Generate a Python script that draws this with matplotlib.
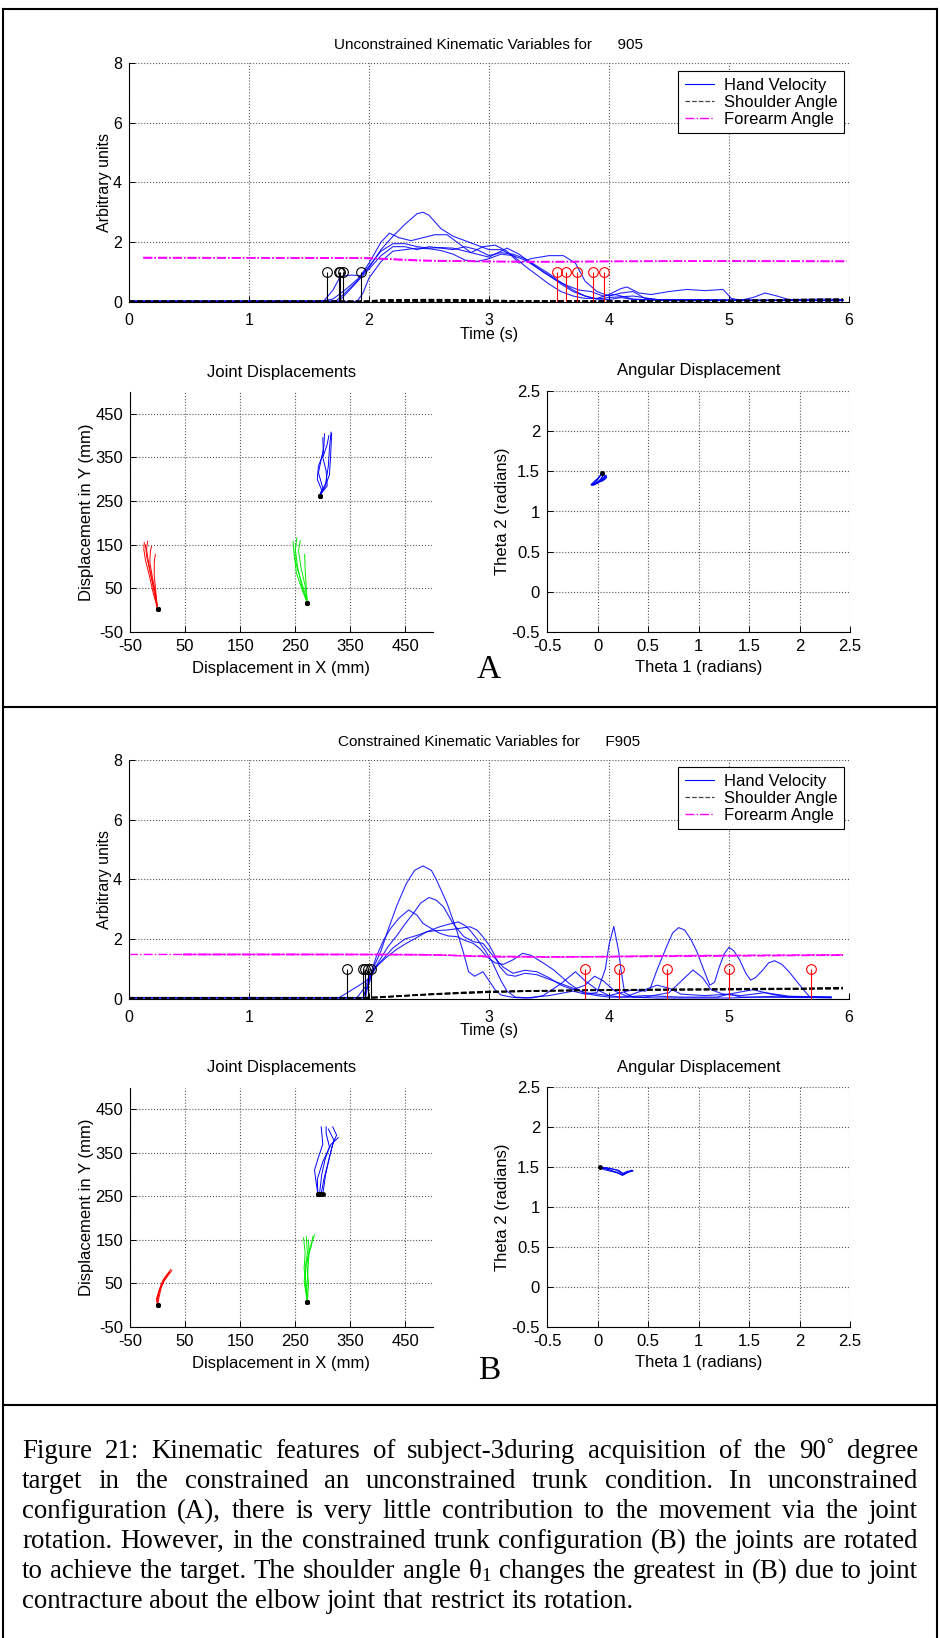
import matplotlib
matplotlib.use("Agg")
import matplotlib.pyplot as plt
from matplotlib.lines import Line2D
from matplotlib.ticker import FormatStrFormatter

plt.rcParams['font.family'] = ['Liberation Sans', 'DejaVu Sans']
plt.rcParams['axes.unicode_minus'] = False
plt.rcParams['mathtext.fontset'] = 'custom'
plt.rcParams['mathtext.rm'] = 'Liberation Serif'
plt.rcParams['mathtext.it'] = 'Liberation Serif:italic'

# ---------------- data ----------------
legend_labels = ['Hand Velocity', 'Shoulder Angle', 'Forearm Angle']
title_a = 'Unconstrained Kinematic Variables for      905'
title_b = 'Constrained Kinematic Variables for      F905'
stem_level = 1.0

# hand velocity, unconstrained trials (time s, arbitrary units)
hand_a = [
    [(0, 0.03), (1.6, 0.03), (1.7, 0.1), (1.8, 0.4), (1.9, 0.75), (2.0, 1.15), (2.1, 1.75), (2.2, 2.2),
     (2.3, 2.6), (2.4, 2.95), (2.45, 3.0), (2.5, 2.9), (2.6, 2.45), (2.7, 2.2), (2.8, 2.05), (2.9, 1.9),
     (3.0, 1.75), (3.1, 1.75), (3.2, 1.55), (3.3, 1.2), (3.4, 0.9), (3.5, 0.6), (3.6, 0.35), (3.7, 0.2),
     (3.8, 0.12), (3.9, 0.12), (4.0, 0.25), (4.1, 0.45), (4.15, 0.5), (4.25, 0.3), (4.35, 0.25), (4.5, 0.35),
     (4.65, 0.42), (4.8, 0.38), (4.95, 0.42), (5.02, 0.12), (5.1, 0.06), (5.2, 0.15), (5.3, 0.3),
     (5.4, 0.2), (5.5, 0.08), (5.6, 0.05), (5.95, 0.05)],
    [(0, 0.02), (1.62, 0.02), (1.7, 0.4), (1.76, 0.85), (1.85, 0.9), (1.93, 0.88), (2.0, 1.3), (2.1, 2.0),
     (2.17, 2.3), (2.25, 2.15), (2.35, 2.05), (2.45, 2.15), (2.55, 2.25), (2.65, 2.25), (2.75, 1.95),
     (2.85, 1.65), (2.95, 1.85), (3.05, 1.9), (3.15, 1.7), (3.25, 1.3), (3.35, 1.45), (3.5, 1.55),
     (3.62, 1.55), (3.72, 1.3), (3.8, 0.7), (3.9, 0.35), (4.0, 0.2), (4.1, 0.3), (4.2, 0.35), (4.3, 0.12),
     (4.5, 0.05), (5.95, 0.05)],
    [(0, 0.02), (1.72, 0.02), (1.8, 0.3), (1.9, 0.7), (2.0, 1.2), (2.1, 1.7), (2.2, 1.95), (2.3, 1.95),
     (2.4, 1.85), (2.5, 1.8), (2.6, 1.82), (2.7, 1.8), (2.8, 1.7), (2.9, 1.6), (3.0, 1.5), (3.1, 1.7),
     (3.15, 1.8), (3.25, 1.6), (3.35, 1.3), (3.45, 1.0), (3.55, 0.75), (3.65, 0.55), (3.75, 0.4),
     (3.85, 0.35), (3.95, 0.2), (4.05, 0.25), (4.2, 0.1), (4.4, 0.05), (5.95, 0.05)],
    [(0, 0.03), (1.75, 0.03), (1.85, 0.45), (1.93, 0.8), (2.0, 1.1), (2.1, 1.55), (2.2, 1.85), (2.3, 1.85),
     (2.4, 1.75), (2.5, 1.85), (2.6, 1.8), (2.7, 1.75), (2.8, 1.85), (2.9, 1.75), (3.0, 1.55), (3.1, 1.65),
     (3.2, 1.6), (3.3, 1.45), (3.4, 1.2), (3.5, 0.95), (3.6, 0.65), (3.7, 0.4), (3.8, 0.2), (3.9, 0.1),
     (4.0, 0.15), (4.2, 0.2), (4.4, 0.08), (4.8, 0.08), (5.3, 0.06), (5.8, 0.1), (5.95, 0.08)],
    [(0, 0.02), (1.9, 0.02), (1.95, 0.3), (2.0, 0.8), (2.1, 1.35), (2.2, 1.7), (2.3, 1.75), (2.4, 1.8),
     (2.5, 1.78), (2.6, 1.72), (2.7, 1.6), (2.8, 1.4), (2.9, 1.35), (3.0, 1.45), (3.1, 1.6), (3.2, 1.55),
     (3.3, 1.4), (3.4, 1.15), (3.5, 0.9), (3.6, 0.6), (3.7, 0.35), (3.8, 0.2), (3.9, 0.1), (4.0, 0.08),
     (4.1, 0.15), (4.2, 0.08), (5.95, 0.05)],
]
shoulder_a = [
    [(0, 0.03), (2.0, 0.03), (2.1, 0.07), (2.5, 0.08), (2.9, 0.07), (3.2, 0.04), (4.0, 0.03), (5.0, 0.05),
     (5.5, 0.08), (5.95, 0.1)],
    [(0, 0.02), (2.05, 0.02), (2.2, 0.05), (2.7, 0.06), (3.0, 0.03), (4.5, 0.03), (5.5, 0.06), (5.95, 0.08)],
    [(0, 0.01), (5.95, 0.03)],
]
forearm_a = [
    [(0.12, 1.48), (1.0, 1.48), (1.9, 1.47), (2.1, 1.45), (2.3, 1.40), (2.6, 1.37), (3.0, 1.35), (3.5, 1.35),
     (4.0, 1.36), (5.0, 1.36), (5.98, 1.35)],
    [(0.12, 1.47), (1.0, 1.47), (1.95, 1.46), (2.15, 1.43), (2.4, 1.38), (2.8, 1.36), (3.3, 1.34), (4.0, 1.35),
     (5.0, 1.37), (5.98, 1.36)],
    [(0.12, 1.49), (1.2, 1.48), (2.0, 1.47), (2.2, 1.44), (2.5, 1.39), (3.0, 1.36), (3.6, 1.35), (4.5, 1.37),
     (5.98, 1.37)],
]
onset_a = [1.648, 1.75, 1.76, 1.78, 1.93]
offset_a = [3.565, 3.638, 3.735, 3.869, 3.959]

# hand velocity, constrained trials
hand_b = [
    [(0, 0.03), (1.95, 0.03), (2.0, 0.6), (2.05, 1.15), (2.1, 1.6), (2.15, 2.2), (2.23, 3.1), (2.31, 3.85),
     (2.38, 4.3), (2.45, 4.45), (2.52, 4.3), (2.56, 4.0), (2.65, 3.2), (2.73, 2.3), (2.79, 1.5), (2.83, 0.9),
     (2.88, 0.75), (2.95, 0.9), (3.0, 0.6), (3.05, 0.3), (3.1, 0.12), (3.2, 0.04), (3.3, 0.02), (3.5, 0.1),
     (3.7, 0.25), (3.8, 0.15), (3.9, 0.2), (3.97, 1.0), (4.0, 1.8), (4.04, 2.42), (4.08, 1.6), (4.1, 0.96),
     (4.13, 0.2), (4.2, 0.05), (4.4, 0.02), (5.0, 0.02), (5.4, 0.08), (5.6, 0.05), (5.85, 0.03)],
    [(0, 0.03), (1.75, 0.03), (1.8, 0.15), (1.9, 0.4), (1.98, 0.6), (2.03, 0.9), (2.09, 1.3), (2.16, 1.75),
     (2.23, 2.1), (2.3, 2.5), (2.37, 2.86), (2.43, 3.2), (2.5, 3.39), (2.56, 3.3), (2.62, 3.08), (2.70, 2.52),
     (2.79, 2.08), (2.87, 1.91), (2.95, 1.85), (3.04, 1.4), (3.12, 1.05), (3.2, 0.85), (3.3, 0.95),
     (3.4, 0.9), (3.5, 0.7), (3.6, 0.45), (3.7, 0.3), (3.8, 0.45), (3.88, 0.75), (3.95, 0.6), (4.05, 0.25),
     (4.15, 0.08), (4.3, 0.3), (4.4, 0.45), (4.5, 0.35), (4.6, 0.15), (4.8, 0.1), (5.0, 0.15), (5.2, 0.3),
     (5.35, 0.15), (5.5, 0.05), (5.85, 0.05)],
    [(0, 0.03), (1.9, 0.03), (1.97, 0.4), (2.02, 0.9), (2.06, 1.4), (2.12, 1.95), (2.18, 2.35), (2.25, 2.7),
     (2.33, 2.97), (2.4, 2.8), (2.45, 2.52), (2.52, 2.35), (2.59, 2.19), (2.66, 2.1), (2.73, 2.08),
     (2.8, 1.95), (2.87, 1.85), (2.93, 1.65), (2.98, 1.41), (3.05, 1.2), (3.12, 1.15), (3.2, 1.3),
     (3.28, 1.52), (3.35, 1.45), (3.45, 1.2), (3.54, 0.96), (3.67, 0.5), (3.79, 0.18), (3.9, 0.1),
     (4.0, 0.05), (4.3, 0.05), (4.5, 0.2), (4.7, 0.96), (4.78, 0.7), (4.85, 0.3), (4.95, 0.15), (5.1, 0.1),
     (5.3, 0.2), (5.5, 0.08), (5.85, 0.05)],
    [(0, 0.03), (1.95, 0.03), (2.0, 0.5), (2.04, 0.96), (2.1, 1.25), (2.2, 1.7), (2.3, 2.0), (2.4, 2.12),
     (2.45, 2.19), (2.52, 2.3), (2.59, 2.41), (2.67, 2.5), (2.745, 2.57), (2.8, 2.45), (2.84, 2.3),
     (2.9, 2.0), (2.97, 1.6), (3.03, 1.2), (3.1, 0.6), (3.15, 0.25), (3.22, 0.05), (3.35, 0.02), (3.45, 0.1),
     (3.6, 0.5), (3.72, 0.9), (3.8, 0.6), (3.9, 0.3), (4.0, 0.1), (4.1, 0.05), (4.3, 0.1), (4.6, 0.05),
     (4.9, 0.05), (5.0, 0.15), (5.1, 0.05), (5.85, 0.03)],
    [(0, 0.03), (1.97, 0.03), (2.0, 0.6), (2.06, 1.07), (2.15, 1.4), (2.23, 1.65), (2.31, 1.85), (2.4, 2.05),
     (2.48, 2.24), (2.56, 2.28), (2.65, 2.3), (2.75, 2.35), (2.84, 2.41), (2.9, 2.3), (2.95, 2.07),
     (3.0, 1.8), (3.04, 1.51), (3.09, 1.07), (3.15, 0.8), (3.22, 0.75), (3.3, 0.85), (3.4, 0.8), (3.5, 0.65),
     (3.6, 0.5), (3.7, 0.35), (3.8, 0.2), (3.9, 0.15), (4.0, 0.1), (4.1, 0.2), (4.2, 0.3), (4.3, 0.25),
     (4.34, 0.3), (4.4, 0.96), (4.48, 1.74), (4.53, 2.2), (4.58, 2.38), (4.63, 2.3), (4.68, 2.0),
     (4.73, 1.6), (4.79, 0.96), (4.84, 0.45), (4.88, 0.55), (4.92, 1.07), (4.96, 1.5), (5.0, 1.72),
     (5.04, 1.6), (5.09, 1.29), (5.14, 0.85), (5.18, 0.62), (5.22, 0.7), (5.28, 0.95), (5.33, 1.2),
     (5.38, 1.27), (5.44, 1.15), (5.5, 0.9), (5.56, 0.6), (5.62, 0.3), (5.67, 0.07), (5.75, 0.05),
     (5.85, 0.05)],
]
shoulder_b = [
    [(0, 0.03), (1.95, 0.03), (2.2, 0.08), (2.5, 0.15), (2.8, 0.21), (3.0, 0.24), (3.5, 0.27), (4.0, 0.29),
     (5.0, 0.31), (5.5, 0.32), (5.95, 0.37)],
    [(0, 0.02), (2.0, 0.02), (2.3, 0.09), (2.6, 0.16), (3.0, 0.22), (3.6, 0.27), (4.2, 0.3), (5.0, 0.33),
     (5.95, 0.35)],
    [(0, 0.03), (2.05, 0.03), (2.4, 0.12), (2.9, 0.2), (3.3, 0.25), (4.0, 0.28), (5.0, 0.3), (5.95, 0.33)],
]
forearm_b = [
    [(0.0, 1.48), (1.0, 1.48), (2.0, 1.48), (2.5, 1.47), (2.8, 1.43), (3.0, 1.40), (3.5, 1.39), (4.0, 1.41),
     (4.5, 1.44), (5.0, 1.45), (5.95, 1.47)],
    [(0.45, 1.49), (1.5, 1.49), (2.4, 1.48), (2.7, 1.45), (3.0, 1.42), (3.6, 1.40), (4.2, 1.42), (5.0, 1.44),
     (5.95, 1.45)],
    [(0.45, 1.47), (2.2, 1.47), (2.6, 1.46), (3.0, 1.41), (4.0, 1.40), (5.0, 1.43), (5.95, 1.46)],
]
onset_b = [1.82, 1.95, 1.97, 1.99, 2.02]
offset_b = [3.8, 4.08, 4.48, 5.0, 5.68]

# joint paths in the plane (mm)
wrist_a = [
    [(0, 3), (-8, 40), (-15, 80), (-22, 115), (-25, 140), (-24, 155)],
    [(0, 3), (-6, 40), (-12, 80), (-17, 115), (-20, 140), (-18, 158)],
    [(0, 3), (-4, 40), (-10, 80), (-14, 110), (-13, 135), (-11, 146)],
    [(0, 3), (-3, 40), (-6, 80), (-6, 110), (-4, 128)],
    [(0, 3), (-5, 45), (-14, 90), (-20, 125), (-22, 150)],
]
elbow_a = [
    [(272, 16), (265, 50), (255, 90), (248, 125), (246, 158)],
    [(272, 16), (262, 55), (254, 100), (250, 140), (253, 166)],
    [(272, 16), (268, 55), (260, 100), (256, 135), (259, 160)],
    [(272, 16), (270, 50), (268, 90), (267, 128)],
    [(272, 16), (263, 45), (252, 85), (249, 120), (251, 150)],
]
hand_path_a = [
    [(294, 262), (300, 280), (292, 315), (297, 345), (302, 375), (303, 404)],
    [(294, 262), (305, 290), (310, 330), (312, 370), (315, 408)],
    [(294, 262), (308, 285), (306, 320), (300, 350), (308, 380), (311, 400)],
    [(294, 262), (298, 275), (290, 300), (292, 330), (301, 360), (300, 395)],
    [(294, 262), (303, 280), (312, 310), (314, 350), (316, 405)],
]
wrist_b = [
    [(0, 1), (-2, 15), (3, 35), (10, 58), (18, 72), (24, 82)],
    [(0, 1), (1, 18), (5, 38), (12, 56), (20, 70), (26, 80)],
    [(0, 1), (-1, 12), (2, 30), (8, 52), (15, 66), (22, 76)],
    [(0, 1), (3, 20), (7, 42), (14, 62), (21, 74)],
]
elbow_b = [
    [(272, 7), (268, 50), (269, 90), (272, 120), (270, 158)],
    [(272, 7), (270, 45), (266, 85), (268, 120), (265, 155)],
    [(272, 7), (274, 50), (271, 95), (276, 130), (285, 162)],
    [(272, 7), (266, 55), (270, 100), (279, 135), (282, 158)],
    [(272, 7), (271, 40), (273, 80), (275, 120), (274, 150)],
]
hand_path_b = [
    [(291, 256), (287, 290), (285, 311), (292, 340), (300, 370), (297, 410)],
    [(300, 256), (305, 300), (312, 340), (318, 370), (325, 391), (318, 410)],
    [(294, 256), (298, 300), (304, 335), (312, 364), (306, 395), (306, 410)],
    [(291, 256), (290, 290), (300, 330), (315, 370), (328, 385)],
    [(297, 256), (302, 290), (310, 330), (316, 360), (320, 380), (310, 405)],
]

# joint angles (rad): theta1, theta2
angles_a = [
    [(0.047, 1.479), (0.03, 1.45), (0.0, 1.40), (-0.04, 1.35), (-0.06, 1.325), (-0.03, 1.33), (0.01, 1.37),
     (0.05, 1.41), (0.08, 1.44), (0.07, 1.46)],
    [(0.047, 1.479), (0.06, 1.45), (0.04, 1.41), (0.0, 1.37), (-0.03, 1.34), (0.0, 1.35), (0.05, 1.39),
     (0.09, 1.42), (0.085, 1.45)],
    [(0.047, 1.479), (0.02, 1.43), (-0.01, 1.38), (-0.05, 1.33), (-0.02, 1.345), (0.03, 1.38), (0.07, 1.40),
     (0.09, 1.43)],
    [(0.047, 1.479), (0.05, 1.44), (0.03, 1.40), (0.02, 1.37), (0.05, 1.38), (0.08, 1.41), (0.06, 1.46)],
    [(0.047, 1.479), (0.035, 1.46), (0.01, 1.42), (-0.02, 1.39), (-0.065, 1.335), (-0.02, 1.35), (0.04, 1.39),
     (0.08, 1.43)],
]
angles_b = [
    [(0.028, 1.496), (0.08, 1.48), (0.15, 1.45), (0.22, 1.42), (0.25, 1.40), (0.29, 1.43), (0.34, 1.46)],
    [(0.028, 1.496), (0.10, 1.49), (0.17, 1.47), (0.23, 1.43), (0.26, 1.41), (0.31, 1.44), (0.33, 1.455)],
    [(0.028, 1.496), (0.06, 1.47), (0.12, 1.45), (0.19, 1.43), (0.24, 1.405), (0.28, 1.42), (0.35, 1.455),
     (0.32, 1.45)],
    [(0.028, 1.496), (0.09, 1.485), (0.16, 1.47), (0.21, 1.46), (0.25, 1.42), (0.30, 1.45)],
    [(0.028, 1.496), (0.07, 1.48), (0.14, 1.455), (0.20, 1.425), (0.245, 1.395), (0.27, 1.41), (0.31, 1.445),
     (0.35, 1.45)],
]

caption_lines = [
    "Figure 21: Kinematic features of subject-3during acquisition of the 90\u02da degree",
    "target in the constrained an unconstrained trunk condition. In unconstrained",
    "configuration (A), there is very little contribution to the movement via the joint",
    "rotation. However, in the constrained trunk configuration (B) the joints are rotated",
    "to achieve the target. The shoulder angle THETA1 changes the greatest in (B) due to joint",
    "contracture about the elbow joint that restrict its rotation.",
]

# ---------------- figure ----------------
W, H = 940, 1638
fig = plt.figure(figsize=(W / 100, H / 100), dpi=100)


def place(l, t, r, b):
    return fig.add_axes([l / W, 1 - b / H, (r - l) / W, (b - t) / H])


def xy(trial):
    return [p[0] for p in trial], [p[1] for p in trial]


def setup(ax, xlim, ylim, xt, yt, fs, xpad=5):
    ax.set_xlim(*xlim)
    ax.set_ylim(*ylim)
    ax.set_xticks(xt)
    ax.set_yticks(yt)
    ax.xaxis.set_major_formatter(FormatStrFormatter('%g'))
    ax.yaxis.set_major_formatter(FormatStrFormatter('%g'))
    ax.grid(True, linestyle=':', color='#555555', linewidth=0.8)
    ax.set_axisbelow(True)
    for s in ('top', 'right'):
        ax.spines[s].set_visible(False)
    for s in ('left', 'bottom'):
        ax.spines[s].set_linewidth(0.8)
    ax.tick_params(direction='in', length=4, width=0.7, labelsize=fs, pad=5)
    ax.tick_params(axis='x', pad=xpad)


def kinematic(ax, title, hand, shoulder, forearm, onset, offset, legend_top):
    setup(ax, (0, 6), (0, 8), range(7), range(0, 9, 2), 11.5, xpad=8)
    for tr in hand:
        ax.plot(*xy(tr), color='#0000ff', lw=0.8, alpha=0.85)
    for tr in shoulder:
        ax.plot(*xy(tr), color='k', lw=1.1, ls='--')
    for tr in forearm:
        ax.plot(*xy(tr), color='#ff00ff', lw=1.0, ls='-.')
    for times, col in ((onset, 'k'), (offset, '#ff0000')):
        ml, sl, bl = ax.stem(times, [stem_level] * len(times))
        sl.set_color(col)
        sl.set_linewidth(0.8)
        ml.set_markerfacecolor('none')
        ml.set_markeredgecolor(col)
        ml.set_markersize(7)
        ml.set_markeredgewidth(0.8)
        bl.set_visible(False)
    ax.text(0.5, 1.074, title, transform=ax.transAxes, ha='center', va='center', fontsize=11)
    ax.set_xlabel('Time (s)', fontsize=11.5)
    ax.xaxis.set_label_coords(0.5, -0.104)
    ax.set_ylabel('Arbitrary units', fontsize=11.5)
    ax.yaxis.set_label_coords(-0.024, 0.5)
    handles = [Line2D([], [], color='#0000ff', lw=0.8),
               Line2D([], [], color='#444444', lw=0.9, ls='--'),
               Line2D([], [], color='#ff00ff', lw=1.0, ls='-.')]
    leg = ax.legend(handles, legend_labels, loc='upper right', bbox_to_anchor=(0.993, legend_top),
                    borderaxespad=0, fancybox=False, edgecolor='k', fontsize=12, handlelength=1.75,
                    handletextpad=0.6, labelspacing=0.12, borderpad=0.4, framealpha=1)
    leg.get_frame().set_linewidth(0.8)


def joints(ax, tracks):
    setup(ax, (-50, 500), (-50, 500), range(-50, 451, 100), range(-50, 451, 100), 12)
    for color, trials in tracks:
        for tr in trials:
            ax.plot(*xy(tr), color=color, lw=0.7)
        for tr in trials:
            ax.plot(tr[0][0], tr[0][1], 'k.', ms=5)
    ax.text(0.5, 1.083, 'Joint Displacements', transform=ax.transAxes, ha='center', va='center', fontsize=12)
    ax.set_xlabel('Displacement in X (mm)', fontsize=12)
    ax.xaxis.set_label_coords(0.5, -0.121)
    ax.set_ylabel('Displacement in Y (mm)', fontsize=12)
    ax.yaxis.set_label_coords(-0.119, 0.5)


def angular(ax, trials):
    ticks = [-0.5, 0, 0.5, 1, 1.5, 2, 2.5]
    setup(ax, (-0.5, 2.5), (-0.5, 2.5), ticks, ticks, 12)
    for tr in trials:
        ax.plot(*xy(tr), color='#0000ff', lw=0.7)
    ax.plot(trials[0][0][0], trials[0][0][1], 'k.', ms=5)
    ax.text(0.5, 1.083, 'Angular Displacement', transform=ax.transAxes, ha='center', va='center', fontsize=12)
    ax.set_xlabel('Theta 1 (radians)', fontsize=12)
    ax.xaxis.set_label_coords(0.5, -0.115)
    ax.set_ylabel('Theta 2 (radians)', fontsize=12)
    ax.yaxis.set_label_coords(-0.122, 0.5)


kinematic(place(129, 62.7, 849, 302), title_a, hand_a, shoulder_a, forearm_a, onset_a, offset_a, 0.965)
joints(place(130, 392, 433, 632), [('#ff0000', wrist_a), ('#00ee00', elbow_a), ('#0000ff', hand_path_a)])
angular(place(547, 391, 850, 632), angles_a)

kinematic(place(129, 760, 849, 998.6), title_b, hand_b, shoulder_b, forearm_b, onset_b, offset_b, 0.971)
joints(place(130, 1087.7, 433, 1327), [('#ff0000', wrist_b), ('#00ee00', elbow_b), ('#0000ff', hand_path_b)])
angular(place(547, 1087, 850, 1327), angles_b)

fig.text(489 / W, 1 - 669.5 / H, 'A', fontsize=24, family='Liberation Serif', ha='center', va='center')
fig.text(489 / W, 1 - 1371 / H, 'B', fontsize=24, family='Liberation Serif', ha='center', va='center')

# panel frame
for y in (9, 707, 1405):
    fig.add_artist(Line2D([3 / W, 937 / W], [1 - y / H, 1 - y / H], color='k', lw=1.5))
for x in (3, 937):
    fig.add_artist(Line2D([x / W, x / W], [1 - 9 / H, 0], color='k', lw=1.5))

# justified caption
cap_left, cap_right = 22, 918
cap_base = [1458, 1488, 1518, 1548, 1578, 1608]
renderer = fig.canvas.get_renderer()
rows = []
for line in caption_lines:
    words = [r'$\mathrm{\theta}_1$' if w == 'THETA1' else w for w in line.split(' ')]
    rows.append([fig.text(0, 0, w, fontsize=17, family='Liberation Serif', va='baseline', ha='left')
                 for w in words])
probe = fig.text(0, 0, 'x x', fontsize=17, family='Liberation Serif')
probe2 = fig.text(0, 0, 'xx', fontsize=17, family='Liberation Serif')


def measure():
    sp = probe.get_window_extent(renderer).width - probe2.get_window_extent(renderer).width
    widths = [[t.get_window_extent(renderer).width for t in row] for row in rows]
    return sp, widths


sp, widths = measure()
natural = max(sum(w) + sp * (len(w) - 1) for w in widths)
fs = 17 * (cap_right - cap_left) / natural * 0.995
for row in rows:
    for t in row:
        t.set_fontsize(fs)
probe.set_fontsize(fs)
probe2.set_fontsize(fs)
sp, widths = measure()
probe.remove()
probe2.remove()

for i, (row, w) in enumerate(zip(rows, widths)):
    last = i == len(rows) - 1
    gap = sp if last else (cap_right - cap_left - sum(w)) / (len(w) - 1)
    x = cap_left
    for t, wd in zip(row, w):
        t.set_position((x / W, 1 - cap_base[i] / H))
        x += wd + gap

fig.savefig('out.png', dpi=100)
